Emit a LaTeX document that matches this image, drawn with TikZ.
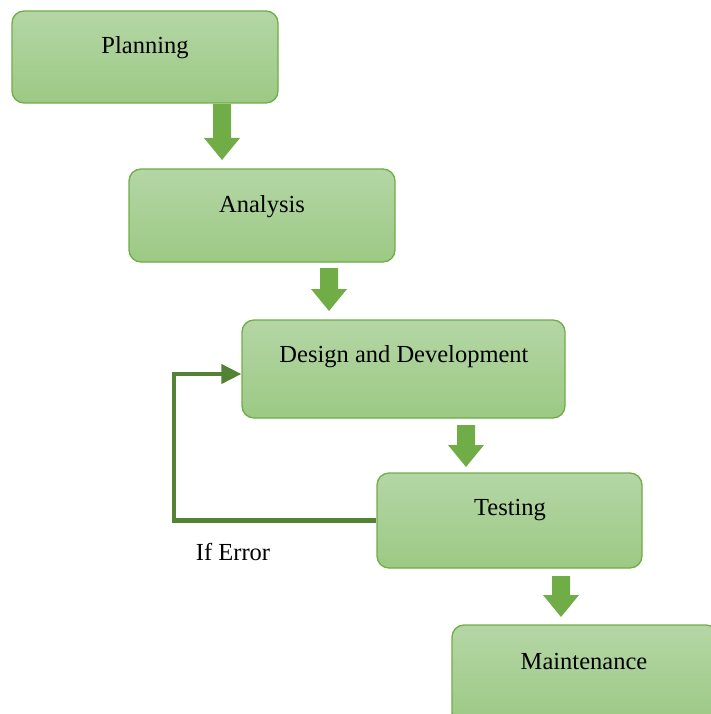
\documentclass[tikz,border=0pt]{standalone}
\usepackage{fontspec}
\setmainfont{Liberation Serif}
\usetikzlibrary{arrows.meta,calc}
\definecolor{boxtop}{HTML}{B4D6A5}
\definecolor{boxbot}{HTML}{9CC984}
\definecolor{boxline}{HTML}{70AD47}
\definecolor{barrow}{HTML}{70AD47}
\definecolor{fback}{HTML}{548235}
\tikzset{
  stagebox/.style={draw=boxline, line width=1.3pt, rounded corners=12pt,
    top color=boxtop, bottom color=boxbot, inner sep=0pt},
  stagetext/.style={font=\fontsize{24.5}{28}\selectfont, inner sep=0pt},
  feedline/.style={draw=fback, line width=4.2pt,
    -{Triangle[length=20pt,width=19pt]}},
}
\newcommand{\blockarrow}[2]{% #1 start coordinate, #2 end coordinate
  \fill[barrow] ($(#1)+(-9,0)$) -- ($(#1)+(9,0)$) -- ($(#2)+(9,-22)$) -- ($(#2)+(18,-22)$)
    -- (#2) -- ($(#2)+(-18,-22)$) -- ($(#2)+(-9,-22)$) -- cycle;}
\begin{document}
\begin{tikzpicture}[x=1pt,y=-1pt]
\useasboundingbox (0,0) rectangle (711,714);
\clip (0,0) rectangle (711,714);
\node[stagebox, minimum width=266pt, minimum height=92pt] (plan) at (145,57) {};
\node[stagetext] (plant) at (145,48) {Planning};
\node[stagebox, minimum width=266pt, minimum height=93pt] (anal) at (262,215.5) {};
\node[stagetext] (analt) at (262,207) {Analysis};
\node[stagebox, minimum width=323pt, minimum height=98pt] (design) at (403.5,369) {};
\node[stagetext] (designt) at (404,357) {Design and Development};
\node[stagebox, minimum width=265pt, minimum height=95pt] (test) at (509.5,520.5) {};
\node[stagetext] (testt) at (510,510) {Testing};
\node[stagebox, minimum width=266pt, minimum height=100pt] (maint) at (585,675) {};
\node[stagetext] (maintt) at (584,662) {Maintenance};
\node[stagetext] (err) at (233,552) {If Error};
% block arrows
\coordinate (a1s) at (222,104); \coordinate (a1e) at (222,160);
\coordinate (a2s) at (329,268); \coordinate (a2e) at (329,311);
\coordinate (a3s) at (466,425); \coordinate (a3e) at (466,467);
\coordinate (a4s) at (561,576); \coordinate (a4e) at (561,617);
\blockarrow{a1s}{a1e}
\blockarrow{a2s}{a2e}
\blockarrow{a3s}{a3e}
\blockarrow{a4s}{a4e}
% feedback
\coordinate (fbin) at ($(design.west)+(0,5)$);
\draw[feedline] (test.west) -- ++(-202,0) |- (fbin);
\end{tikzpicture}
\end{document}
